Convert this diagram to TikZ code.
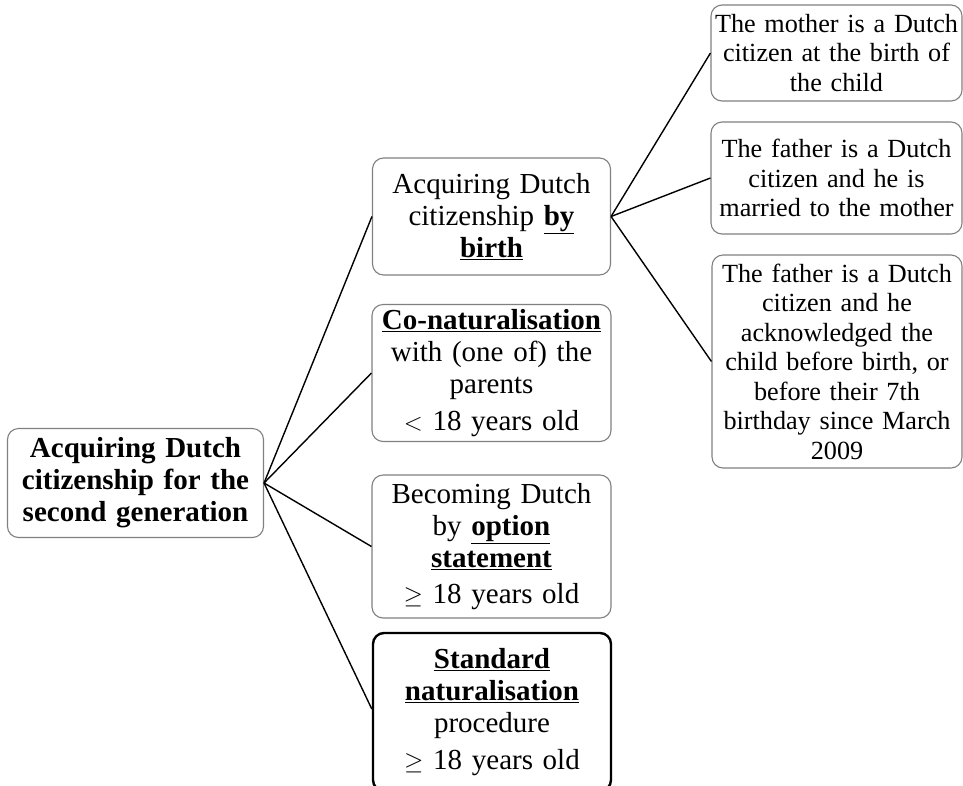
\documentclass[tikz,border=0pt]{standalone}
\usepackage{fontspec}
\setmainfont{Liberation Serif}
\newcommand{\ulb}[1]{\underline{\textbf{#1}}}
\begin{document}
\begin{tikzpicture}[x=1pt,y=-1pt,
  box/.style={draw=black!50,line width=1.1pt,rounded corners=11pt,align=center,inner sep=0pt,
    font=\fontsize{29}{32}\selectfont},
  rbox/.style={box,font=\fontsize{26.2}{29.5}\selectfont},
  link/.style={line width=1.4pt,black}]
\useasboundingbox (0,0) rectangle (963,785);
\node[box,minimum width=256pt,minimum height=109pt,text width=245pt] (root) at (135.5,483)
  {\textbf{Acquiring Dutch\\citizenship for the\\second generation}};
\node[box,minimum width=238pt,minimum height=117pt,text width=230pt] (birth) at (491.5,216.5)
  {Acquiring Dutch\\citizenship \ulb{by}\\\ulb{birth}};
\node[box,minimum width=239pt,minimum height=137pt,text width=237pt] (conat) at (491.5,373)
  {\ulb{Co-naturalisation}\\with (one of) the\\parents\\[5pt]$<$ 18 years old};
\node[box,minimum width=239pt,minimum height=143pt,text width=230pt] (option) at (491.5,546.5)
  {Becoming Dutch\\by \ulb{option}\\\ulb{statement}\\[4pt]$\geq$ 18 years old};
\node[box,draw=black,line width=2.4pt,minimum width=238pt,minimum height=158pt,text width=230pt] (standard) at (492,712)
  {\ulb{Standard}\\\ulb{naturalisation}\\procedure\\[5pt]$\geq$ 18 years old\\[1pt]};
\node[rbox,minimum width=251pt,minimum height=96pt,text width=251pt] (r1) at (836.5,53)
  {The mother is a Dutch\\citizen at the birth of\\the child};
\node[rbox,minimum width=251pt,minimum height=112pt,text width=251pt] (r2) at (836.5,178)
  {The father is a Dutch\\citizen and he is\\married to the mother};
\node[rbox,minimum width=250pt,minimum height=213pt,text width=250pt] (r3) at (837,361.5)
  {The father is a Dutch\\citizen and he\\acknowledged the\\child before birth, or\\before their 7th\\birthday since March\\2009};
\draw[link] (root.east) -- (birth.west);
\draw[link] (root.east) -- (conat.west);
\draw[link] (root.east) -- (option.west);
\draw[link] (root.east) -- ([yshift=3pt]standard.west);
\draw[link] (birth.east) -- (r1.west);
\draw[link] (birth.east) -- (r2.west);
\draw[link] (birth.east) -- (r3.west);
\end{tikzpicture}
\end{document}
